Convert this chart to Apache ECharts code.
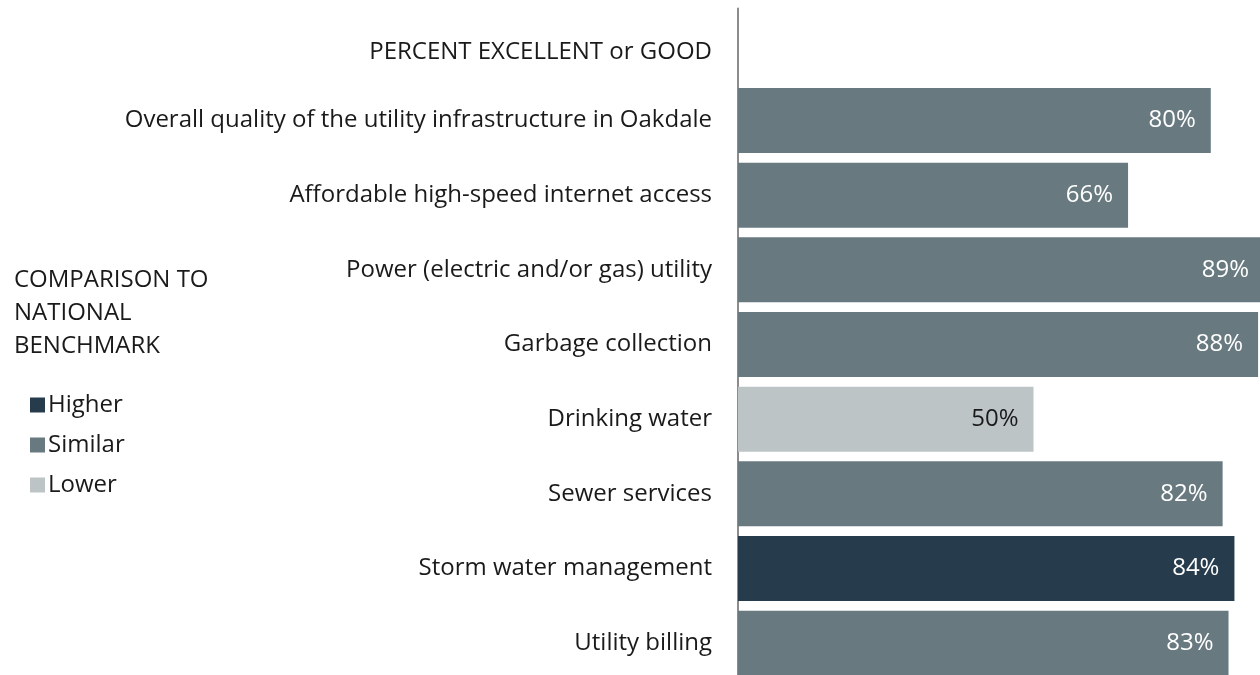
<!DOCTYPE html>
<html>
<head>
<meta charset="utf-8">
<script src="https://cdn.jsdelivr.net/npm/echarts@6/dist/echarts.min.js"></script>
<style>
    html, body { margin: 0; padding: 0; background: #fff; }
    #chart { width: 1260px; height: 675px; }
</style>
</head>
<body>
<div id="chart"></div>
<script>
    // categories (first one is the column header, no bar)
    var categories = [
        'PERCENT EXCELLENT or GOOD',
        'Overall quality of the utility infrastructure in Oakdale',
        'Affordable high-speed internet access',
        'Power (electric and/or gas) utility',
        'Garbage collection',
        'Drinking water',
        'Sewer services',
        'Storm water management',
        'Utility billing'
    ];
    var percents = [null, 80, 66, 89, 88, 50, 82, 84, 83];
    var comparison = [null, 'Similar', 'Similar', 'Similar', 'Similar', 'Lower', 'Similar', 'Higher', 'Similar'];
    var groups = ['Higher', 'Similar', 'Lower'];

    var colors = { Higher: '#263c4d', Similar: '#687a80', Lower: '#bcc4c6' };
    var labelColors = { Higher: '#ffffff', Similar: '#ffffff', Lower: '#1a1a1a' };
    var fontFamily = '"Open Sans", sans-serif';
    var fs = 24;

    var series = groups.map(function (g) {
        return {
            name: g,
            type: 'bar',
            stack: 'all',
            barWidth: 65,
            itemStyle: { color: colors[g] },
            label: {
                show: true,
                position: 'insideRight',
                distance: 15,
                color: labelColors[g],
                fontSize: fs,
                fontFamily: fontFamily,
                formatter: function (p) { return p.value + '%'; }
            },
            data: percents.map(function (v, i) {
                return comparison[i] === g ? v : '-';
            })
        };
    });

    var myChart = echarts.init(document.getElementById('chart'));
    myChart.setOption({
        animation: false,
        title: {
            text: 'COMPARISON TO\nNATIONAL\nBENCHMARK',
            left: 9,
            top: 259,
            textStyle: {
                fontSize: fs,
                fontWeight: 'normal',
                color: '#1a1a1a',
                lineHeight: 33,
                fontFamily: fontFamily
            }
        },
        legend: {
            orient: 'vertical',
            left: 25,
            top: 388,
            icon: 'rect',
            itemWidth: 15,
            itemHeight: 15,
            itemGap: 16,
            data: groups,
            textStyle: { fontSize: fs, color: '#1a1a1a', fontFamily: fontFamily, padding: [0, 0, 0, -2] }
        },
        grid: {
            left: 738,
            top: 8.5,
            width: 591,
            height: 672,
            outerBoundsMode: 'none',
            containLabel: false
        },
        xAxis: {
            type: 'value',
            min: 0,
            max: 100,
            show: false
        },
        yAxis: {
            type: 'category',
            inverse: true,
            data: categories,
            axisLine: { show: true, lineStyle: { color: '#8c8c8c', width: 2 } },
            axisTick: { show: false },
            axisLabel: {
                margin: 26,
                fontSize: fs,
                color: '#1a1a1a',
                fontFamily: fontFamily,
                formatter: function (v, i) {
                    return i === 0 ? '{h|' + v + '}' : v;
                },
                rich: {
                    h: { fontSize: fs, color: '#1a1a1a', fontFamily: fontFamily, padding: [12, 0, 0, 0] }
                }
            }
        },
        series: series
    });
</script>
</body>
</html>
